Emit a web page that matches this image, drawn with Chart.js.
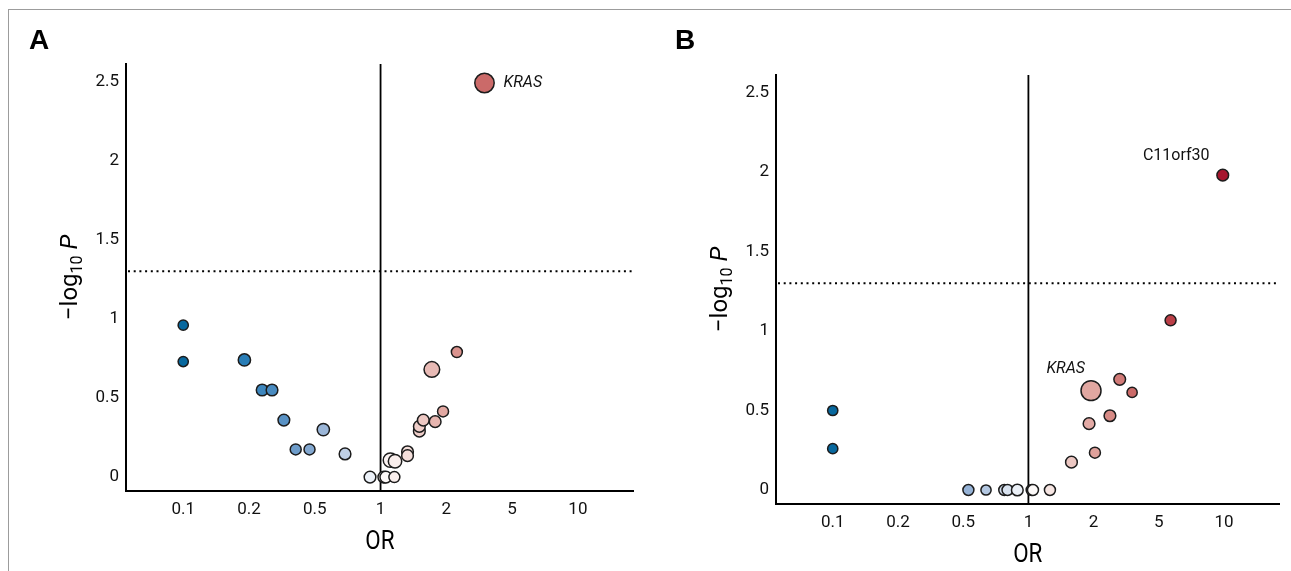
<!DOCTYPE html>
<html>
<head>
<meta charset="utf-8">
<script src="https://cdn.jsdelivr.net/npm/chart.js@4.4.1/dist/chart.umd.min.js"></script>
<style>
  html, body { margin: 0; padding: 0; background: #fff; }
  body { width: 1291px; height: 571px; position: relative; overflow: hidden; }
  #frame { position: absolute; left: 8px; top: 9px; width: 1300px; height: 600px;
           border-top: 1.5px solid #9c9c9c; border-left: 1.5px solid #9c9c9c; }
  canvas { position: absolute; top: 0; }
</style>
</head>
<body>
<div id="frame"></div>
<canvas id="chartA" width="645" height="571" style="left:0"></canvas>
<canvas id="chartB" width="646" height="571" style="left:645px"></canvas>
<script>
// x axis: one unit per tick, ticks are OR = 0.1 ... 10
const orTicks = ['0.1', '0.2', '0.5', '1', '2', '5', '10'];
const yTicks = [0, 0.5, 1, 1.5, 2, 2.5];
const pCutoff = -Math.log10(0.05);

// panel A
const orPosA = [-3, -3, -2.07, -1.80, -1.65, -1.47, -1.29, -1.08, -0.87, -0.54,
                -0.16, 0.05, 0.08, 0.21, 0.15, 0.22, 0.41, 0.41, 0.59, 0.59,
                0.65, 0.83, 0.95, 0.78, 1.16, 1.58];
const logPA = [0.96, 0.73, 0.74, 0.55, 0.55, 0.36, 0.175, 0.175, 0.30, 0.146,
               0, 0, 0, 0, 0.107, 0.10, 0.16, 0.135, 0.29, 0.32,
               0.36, 0.35, 0.415, 0.68, 0.79, 2.49];
const mutA = [3, 3, 6, 5, 5, 5, 4, 4, 6, 5, 5, 5, 5, 4, 10, 8, 5, 5, 5, 5, 5, 5, 4, 13, 4, 24];
const genesA = { 25: 'KRAS' };

// panel B
const orPosB = [-3, -3, -0.92, -0.65, -0.37, -0.32, -0.17, 0.05, 0.07, 0.33,
                0.66, 1.02, 0.93, 1.25, 0.96, 1.40, 1.59, 2.18, 2.98];
const logPB = [0.50, 0.26, 0, 0, 0, 0, 0, 0, 0, 0,
               0.175, 0.235, 0.417, 0.467, 0.625, 0.696, 0.614, 1.067, 1.98];
const mutB = [3, 3, 4, 3, 4, 4, 5, 4, 4, 4, 5, 4, 5, 5, 26, 5, 3, 4, 5];
const genesB = { 14: 'KRAS', 18: 'C11orf30' };

// blue - white - red, by position on the OR axis
const stops = [
  [-3, [8, 104, 158]], [-2, [44, 127, 184]], [-1.5, [86, 144, 196]], [-1, [140, 172, 210]],
  [-0.5, [196, 211, 232]], [0, [255, 255, 255]], [0.5, [242, 216, 211]], [1, [224, 163, 157]],
  [1.5, [205, 112, 109]], [2.2, [186, 62, 70]], [3, [165, 20, 45]]
];
function colorFor(v) {
  if (v <= stops[0][0]) return 'rgb(' + stops[0][1] + ')';
  for (let i = 1; i < stops.length; i++) {
    if (v <= stops[i][0]) {
      const [a, ca] = stops[i - 1], [b, cb] = stops[i];
      const t = (v - a) / (b - a);
      return 'rgb(' + ca.map((c, k) => Math.round(c + (cb[k] - c) * t)).join(',') + ')';
    }
  }
  return 'rgb(' + stops[stops.length - 1][1] + ')';
}
const radiusFor = n => 2.6 + 1.45 * Math.sqrt(n);

const decor = {
  id: 'decor',
  beforeDatasetsDraw(chart, args, o) {
    const {ctx, chartArea: a, scales: {x, y}} = chart;
    ctx.save();
    ctx.strokeStyle = '#000';
    ctx.lineWidth = 1.8;
    const x1 = x.getPixelForValue(0);
    ctx.beginPath(); ctx.moveTo(x1, a.top); ctx.lineTo(x1, a.bottom); ctx.stroke();
    ctx.lineWidth = 2;
    ctx.setLineDash([2, 3.7]);
    const yc = y.getPixelForValue(pCutoff);
    ctx.beginPath(); ctx.moveTo(a.left + 2, yc); ctx.lineTo(a.right, yc); ctx.stroke();
    ctx.restore();
  },
  afterDraw(chart, args, o) {
    const {ctx, chartArea: a} = chart;
    ctx.save();
    ctx.fillStyle = '#000';
    // panel letter
    ctx.font = 'bold 28px "Liberation Sans", Arial, sans-serif';
    ctx.textBaseline = 'alphabetic';
    ctx.textAlign = 'left';
    ctx.fillText(o.letter, o.letterX, 49);
    // x title
    ctx.save();
    ctx.translate((a.left + a.right) / 2, a.bottom + 51);
    ctx.scale(0.86, 1);
    ctx.font = '26px Roboto, sans-serif';
    ctx.textAlign = 'center';
    ctx.textBaseline = 'middle';
    ctx.fillText('OR', 0, 0);
    ctx.restore();
    // y title: -log10 P
    ctx.save();
    ctx.translate(a.left - 49, (a.top + a.bottom) / 2);
    ctx.rotate(-Math.PI / 2);
    const main = '24px Roboto, sans-serif', sub = '16px Roboto, sans-serif', ital = 'italic 24px Roboto, sans-serif';
    ctx.font = main; const w1 = ctx.measureText('\u2212log').width, ws = ctx.measureText(' ').width;
    ctx.font = sub; const w2 = ctx.measureText('10').width;
    ctx.font = ital; const w3 = ctx.measureText('P').width;
    let cx = -(w1 + w2 + ws + w3) / 2;
    ctx.textAlign = 'left';
    ctx.font = main; ctx.fillText('\u2212log', cx, 0); cx += w1;
    ctx.font = sub; ctx.fillText('10', cx, 5); cx += w2 + ws;
    ctx.font = ital; ctx.fillText('P', cx, 0);
    ctx.restore();
    // gene labels
    const meta = chart.getDatasetMeta(0);
    o.labels.forEach(l => {
      const pt = meta.data[l.i];
      const name = o.genes[l.i];
      ctx.font = (l.italic ? 'italic ' : '') + '16px Roboto, sans-serif';
      ctx.textAlign = l.align;
      ctx.textBaseline = 'middle';
      ctx.fillStyle = '#111';
      ctx.fillText(name, pt.x + l.dx, pt.y + l.dy);
    });
    ctx.restore();
  }
};

function makeChart(id, xs, ys, ns, genes, box, letter, letterX, labels) {
  const pts = xs.map((v, i) => ({x: v, y: ys[i], n: ns[i]}));
  return new Chart(document.getElementById(id), {
    type: 'scatter',
    data: {
      datasets: [{
        data: pts,
        backgroundColor: c => colorFor(c.raw.x),
        borderColor: '#1c1c1c',
        borderWidth: 1.5,
        pointRadius: c => radiusFor(c.raw.n),
        pointHoverRadius: c => radiusFor(c.raw.n)
      }]
    },
    options: {
      responsive: false,
      animation: false,
      events: [],
      layout: { padding: { top: box.top, right: box.right, left: 0, bottom: 0 } },
      plugins: {
        legend: { display: false },
        tooltip: { enabled: false },
        decor: { letter, letterX, genes, labels }
      },
      scales: {
        x: {
          type: 'linear', min: -3.87, max: 3.85,
          afterBuildTicks: s => { s.ticks = orTicks.map((t, i) => ({value: i - 3})); },
          afterFit: s => { s.height = box.xh; },
          grid: { display: false, drawTicks: false },
          border: { display: true, color: '#000', width: 2 },
          ticks: {
            padding: 9, color: '#111',
            font: { family: 'Roboto', size: 17 },
            callback: v => orTicks[v + 3]
          }
        },
        y: {
          type: 'linear', min: -0.088, max: 2.61,
          afterBuildTicks: s => { s.ticks = yTicks.map(v => ({value: v})); },
          afterFit: s => { s.width = box.yw; },
          grid: { display: false, drawTicks: false },
          border: { display: true, color: '#000', width: 2 },
          ticks: {
            padding: 7, color: '#111',
            font: { family: 'Roboto', size: 17 },
            callback: v => String(v)
          }
        }
      }
    },
    plugins: [decor]
  });
}

makeChart('chartA', orPosA, logPA, mutA, genesA,
  {top: 64, right: 9, yw: 126, xh: 80}, 'A', 29,
  [{i: 25, italic: true, dx: 19, dy: 0, align: 'left'}]);
makeChart('chartB', orPosB, logPB, mutB, genesB,
  {top: 75, right: 5, yw: 131, xh: 67}, 'B', 30,
  [{i: 14, italic: true, dx: -6, dy: -22, align: 'right'},
   {i: 18, italic: false, dx: -46.5, dy: -19, align: 'center'}]);
</script>
</body>
</html>
